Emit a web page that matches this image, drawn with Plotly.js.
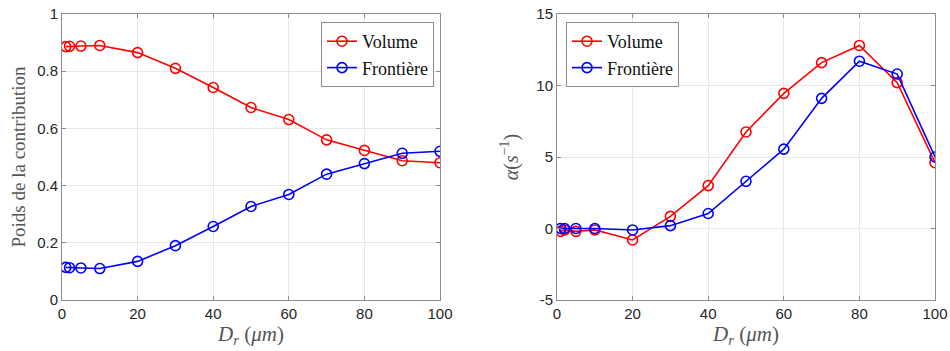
<!DOCTYPE html>
<html>
<head>
<meta charset="utf-8">
<script src="https://cdn.plot.ly/plotly-3.0.1.min.js"></script>
<style>html,body{margin:0;padding:0;background:#fff;}#chart{width:950px;height:351px;}</style>
</head>
<body>
<div id="chart"></div>
<script>
const dr = [1, 2, 5, 10, 20, 30, 40, 50, 60, 70, 80, 90, 100];
const poidsVolume = [0.886, 0.887, 0.888, 0.890, 0.865, 0.810, 0.743, 0.673, 0.631, 0.560, 0.523, 0.487, 0.480];
const poidsFrontiere = [0.114, 0.113, 0.112, 0.110, 0.135, 0.190, 0.257, 0.327, 0.369, 0.440, 0.477, 0.513, 0.520];
const alphaVolume = [-0.2, -0.1, -0.2, -0.1, -0.8, 0.85, 3.0, 6.75, 9.45, 11.6, 12.8, 10.2, 4.6];
const alphaFrontiere = [0.0, 0.0, 0.0, 0.0, -0.1, 0.2, 1.05, 3.3, 5.55, 9.1, 11.7, 10.8, 5.0];
const seriesNames = ["Volume", "Frontière"];
const xTicks = [0, 20, 40, 60, 80, 100];
const yTicksLeft = [0, 0.2, 0.4, 0.6, 0.8, 1];
const yTicksRight = [-5, 0, 5, 10, 15];
const yTickTextRight = ["-5", "0", "5", "10", "15"];

const red = "#ff0000", blue = "#0000ff";
function tr(x, y, name, color, xa, ya, lg) {
  return {
    x: x, y: y, name: name, type: "scatter", mode: "lines+markers",
    xaxis: xa, yaxis: ya, legend: lg,
    line: {color: color, width: 1.6},
    marker: {symbol: "circle-open", size: 10, color: color, line: {width: 1.6, color: color}}
  };
}
const data = [
  tr(dr, poidsVolume, seriesNames[0], red, "x", "y", "legend"),
  tr(dr, poidsFrontiere, seriesNames[1], blue, "x", "y", "legend"),
  tr(dr, alphaVolume, seriesNames[0], red, "x2", "y2", "legend2"),
  tr(dr, alphaFrontiere, seriesNames[1], blue, "x2", "y2", "legend2")
];

const serif = "'Liberation Serif', 'DejaVu Serif', serif";
const sans = "'Liberation Sans', Arial, sans-serif";
const axisCommon = {
  showline: true, mirror: "ticks", linecolor: "#8c8c8c", linewidth: 1,
  ticks: "inside", ticklen: 4, tickcolor: "#8c8c8c",
  showgrid: true, gridcolor: "#e8e8e8", gridwidth: 1, zeroline: false,
  tickfont: {family: sans, size: 15, color: "#262626"}
};
const xTitle = {text: "<i>D</i><sub><i>r</i></sub> (<i>μm</i>)", font: {family: serif, size: 21, color: "#555"}, standoff: 4};
const yDom = [1 - 300 / 351, 1 - 14 / 351];
const legendCommon = {
  font: {family: serif, size: 18, color: "#111"},
  bgcolor: "#ffffff", bordercolor: "#8c8c8c", borderwidth: 1,
  xanchor: "left", yanchor: "top", tracegroupgap: 0, itemwidth: 30
};
const layout = {
  width: 950, height: 351,
  margin: {l: 0, r: 0, t: 0, b: 0},
  paper_bgcolor: "#fff", plot_bgcolor: "#fff",
  showlegend: true,
  xaxis: Object.assign({}, axisCommon, {domain: [62 / 950, 440 / 950], range: [0, 100], tickvals: xTicks, anchor: "y", title: xTitle}),
  yaxis: Object.assign({}, axisCommon, {domain: yDom, range: [0, 1], tickvals: yTicksLeft, ticktext: yTicksLeft.map(String), anchor: "x",
    title: {text: "Poids de la contribution", font: {family: serif, size: 19, color: "#555"}, standoff: 6}}),
  xaxis2: Object.assign({}, axisCommon, {domain: [557 / 950, 935 / 950], range: [0, 100], tickvals: xTicks, anchor: "y2", title: xTitle}),
  yaxis2: Object.assign({}, axisCommon, {domain: yDom, range: [-5, 15], tickvals: yTicksRight, ticktext: yTickTextRight, anchor: "x2",
    title: {text: "<i>α</i>(<i>s</i><sup>−1</sup>)", font: {family: serif, size: 20, color: "#555"}, standoff: 12}}),
  legend: Object.assign({}, legendCommon, {x: 321 / 950, y: 1 - 22 / 351}),
  legend2: Object.assign({}, legendCommon, {x: 566 / 950, y: 1 - 22 / 351})
};
Plotly.newPlot("chart", data, layout, {displayModeBar: false, staticPlot: true});
</script>
</body>
</html>
